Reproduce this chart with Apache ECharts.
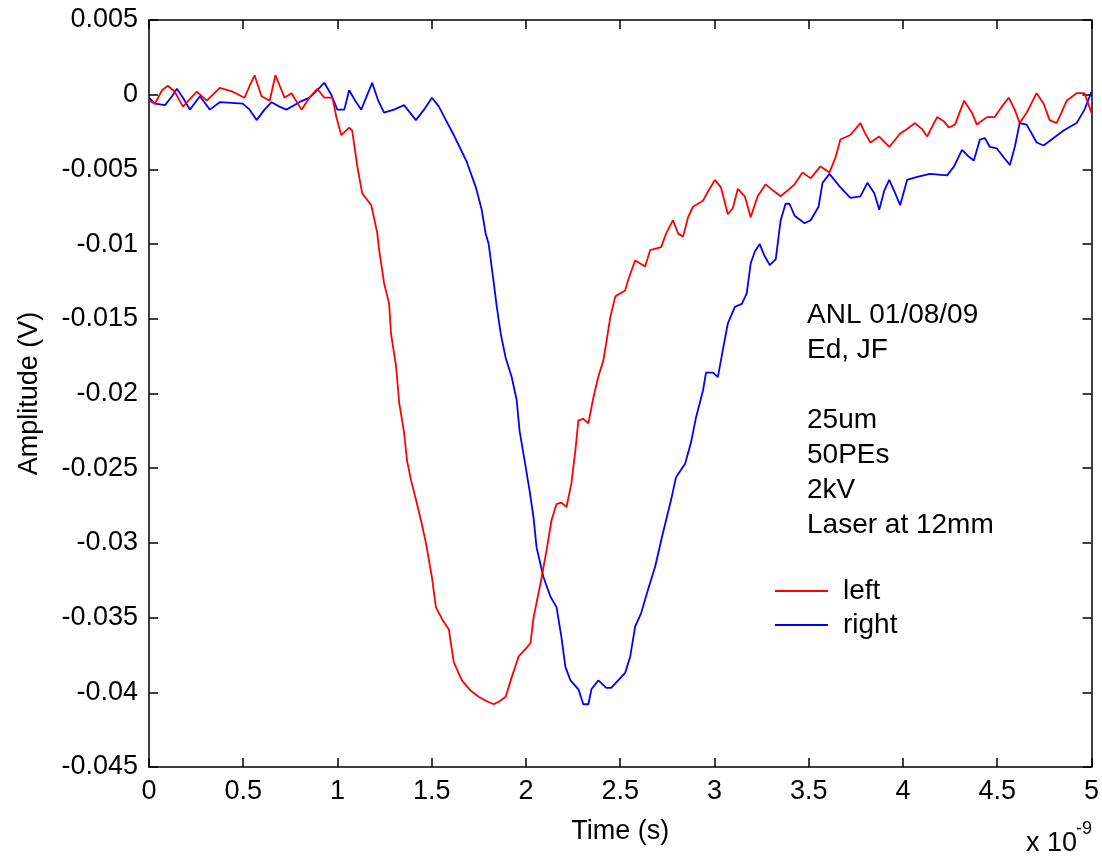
<!DOCTYPE html>
<html>
<head>
<meta charset="utf-8">
<script src="https://cdn.jsdelivr.net/npm/echarts@6/dist/echarts.min.js"></script>
<style>
html,body{margin:0;padding:0;background:#fff;}
#chart{width:1102px;height:857px;}
</style>
</head>
<body>
<div id="chart"></div>
<script>
// Time in units of 1e-9 s, amplitude in V
const leftTime = [0,0.032,0.069,0.100,0.137,0.180,0.217,0.254,0.307,0.375,0.444,0.507,0.534,0.560,0.597,0.640,0.671,0.719,0.756,0.809,0.851,0.893,0.930,0.973,0.994,1.020,1.062,1.078,1.105,1.131,1.179,1.210,1.221,1.247,1.274,1.284,1.311,1.327,1.353,1.369,1.390,1.416,1.443,1.469,1.501,1.522,1.559,1.591,1.617,1.660,1.707,1.749,1.792,1.829,1.860,1.892,1.924,1.961,1.998,2.024,2.040,2.077,2.109,2.135,2.162,2.188,2.215,2.241,2.262,2.278,2.304,2.331,2.357,2.383,2.410,2.426,2.447,2.474,2.526,2.542,2.579,2.606,2.632,2.659,2.717,2.743,2.780,2.807,2.833,2.860,2.886,2.939,2.965,3.002,3.034,3.071,3.097,3.124,3.161,3.192,3.229,3.272,3.309,3.351,3.388,3.425,3.467,3.510,3.562,3.610,3.642,3.668,3.721,3.774,3.800,3.827,3.874,3.927,3.985,4.022,4.064,4.101,4.128,4.181,4.218,4.244,4.276,4.324,4.366,4.392,4.445,4.487,4.524,4.561,4.593,4.619,4.656,4.709,4.746,4.778,4.815,4.841,4.868,4.921,4.963,5.000];
const leftAmp = [-0.0004,-0.0006,0.0003,0.0006,0.0002,-0.0008,-0.0003,0.0002,-0.0004,0.00045,0.0002,-0.0002,0.0006,0.0013,-0.0001,-0.0004,0.0013,-0.0002,0.0001,-0.0010,-0.0002,0.0004,-0.0002,-0.0002,-0.0015,-0.0027,-0.0022,-0.0024,-0.0048,-0.0066,-0.0074,-0.0092,-0.0104,-0.0126,-0.0140,-0.0160,-0.0182,-0.0206,-0.0226,-0.0245,-0.0258,-0.0271,-0.0285,-0.0300,-0.0323,-0.0343,-0.0352,-0.0358,-0.0380,-0.0392,-0.0399,-0.0403,-0.0406,-0.0408,-0.0406,-0.0403,-0.0390,-0.0376,-0.0371,-0.0367,-0.0350,-0.0327,-0.0305,-0.0285,-0.0274,-0.0273,-0.0276,-0.0260,-0.0238,-0.0218,-0.0217,-0.0220,-0.0203,-0.0189,-0.0178,-0.0166,-0.0149,-0.0135,-0.0131,-0.0124,-0.0111,-0.0113,-0.0115,-0.0104,-0.0102,-0.0093,-0.0084,-0.0093,-0.0095,-0.0082,-0.0075,-0.0071,-0.0065,-0.0057,-0.0062,-0.0080,-0.0076,-0.0063,-0.0068,-0.0082,-0.0068,-0.0060,-0.0064,-0.0068,-0.0064,-0.0060,-0.0052,-0.0056,-0.0048,-0.0052,-0.0042,-0.0030,-0.0027,-0.0019,-0.0026,-0.0032,-0.0028,-0.0035,-0.0026,-0.0023,-0.0019,-0.0023,-0.0028,-0.0015,-0.0018,-0.0022,-0.0020,-0.0004,-0.0012,-0.0020,-0.0015,-0.0015,-0.0008,-0.0002,-0.0010,-0.0019,-0.0012,0.0001,-0.0006,-0.0017,-0.0019,-0.0012,-0.0004,0.0001,0.0001,-0.0012];

const rightTime = [0,0.032,0.085,0.122,0.148,0.180,0.217,0.270,0.323,0.375,0.497,0.534,0.571,0.613,0.650,0.692,0.729,0.798,0.851,0.893,0.930,0.967,0.999,1.036,1.062,1.094,1.126,1.152,1.184,1.216,1.247,1.300,1.353,1.416,1.459,1.501,1.538,1.575,1.617,1.644,1.686,1.734,1.765,1.786,1.802,1.829,1.845,1.866,1.892,1.924,1.950,1.966,1.998,2.019,2.040,2.056,2.093,2.130,2.162,2.188,2.209,2.236,2.278,2.304,2.331,2.347,2.384,2.426,2.452,2.489,2.526,2.553,2.579,2.611,2.648,2.685,2.727,2.770,2.796,2.844,2.875,2.902,2.939,2.955,2.992,3.018,3.044,3.071,3.108,3.145,3.171,3.192,3.214,3.240,3.266,3.293,3.325,3.351,3.377,3.398,3.425,3.478,3.510,3.552,3.573,3.610,3.668,3.721,3.774,3.811,3.848,3.874,3.901,3.927,3.959,3.985,4.022,4.075,4.144,4.234,4.271,4.313,4.345,4.376,4.408,4.434,4.461,4.498,4.535,4.567,4.593,4.619,4.656,4.709,4.746,4.799,4.852,4.921,4.963,5.000];
const rightAmp = [-0.0002,-0.0006,-0.0007,-0.0001,0.0004,-0.0002,-0.0010,-0.0001,-0.0010,-0.0005,-0.0006,-0.0010,-0.0017,-0.0010,-0.0005,-0.0008,-0.0010,-0.0005,-0.0002,0.0003,0.0008,0.0000,-0.0010,-0.0010,0.0003,-0.0004,-0.0010,-0.0002,0.0008,-0.0004,-0.0012,-0.0010,-0.0007,-0.0017,-0.0010,-0.0002,-0.0008,-0.0017,-0.0027,-0.0034,-0.0045,-0.0062,-0.0077,-0.0093,-0.0100,-0.0126,-0.0142,-0.0160,-0.0176,-0.0189,-0.0204,-0.0225,-0.0249,-0.0265,-0.0283,-0.0303,-0.0323,-0.0336,-0.0343,-0.0363,-0.0383,-0.0392,-0.0398,-0.0408,-0.0408,-0.0398,-0.0392,-0.0397,-0.0397,-0.0392,-0.0387,-0.0376,-0.0356,-0.0347,-0.0331,-0.0316,-0.0293,-0.0271,-0.0256,-0.0247,-0.0233,-0.0216,-0.0198,-0.0186,-0.0186,-0.0189,-0.0171,-0.0153,-0.0142,-0.0140,-0.0133,-0.0113,-0.0105,-0.0100,-0.0108,-0.0114,-0.0110,-0.0084,-0.0073,-0.0073,-0.0081,-0.0086,-0.0084,-0.0075,-0.0059,-0.0053,-0.0062,-0.0069,-0.0068,-0.0059,-0.0066,-0.0077,-0.0064,-0.0057,-0.0066,-0.0074,-0.0057,-0.0055,-0.0053,-0.0054,-0.0048,-0.0037,-0.0041,-0.0044,-0.0030,-0.0029,-0.0035,-0.0036,-0.0042,-0.0047,-0.0035,-0.0019,-0.0020,-0.0032,-0.0034,-0.0029,-0.0024,-0.0019,-0.0010,0.0002];

const seriesNames = ['left', 'right'];
const noteLines = ['ANL 01/08/09', 'Ed, JF', '', '25um', '50PEs', '2kV', 'Laser at 12mm'];
const xTitle = 'Time (s)';
const yTitle = 'Amplitude (V)';

const FONT = '"Liberation Sans", Arial, sans-serif';
const zip = (a, b) => a.map((v, i) => [v, b[i]]);

const chart = echarts.init(document.getElementById('chart'), null, {renderer: 'canvas'});

const baseX = {
  type: 'value', min: 0, max: 5, interval: 0.5,
  axisLine: {show: true, onZero: false, lineStyle: {color: '#000', width: 1.5}},
  axisTick: {show: true, inside: true, length: 9, lineStyle: {color: '#000', width: 1.5}},
  splitLine: {show: false}
};
const baseY = {
  type: 'value', min: -0.045, max: 0.005, interval: 0.005,
  axisLine: {show: true, onZero: false, lineStyle: {color: '#000', width: 1.5}},
  axisTick: {show: true, inside: true, length: 9, lineStyle: {color: '#000', width: 1.5}},
  splitLine: {show: false}
};

chart.setOption({
  animation: false,
  backgroundColor: '#fff',
  grid: {left: 149, right: 7, top: 20, bottom: 90, containLabel: false},
  xAxis: [
    Object.assign({}, baseX, {
      position: 'bottom',
      name: xTitle, nameLocation: 'middle', nameGap: 51,
      nameTextStyle: {fontFamily: FONT, fontSize: 27, color: '#000'},
      axisLabel: {fontFamily: FONT, fontSize: 27, color: '#000', margin: 11}
    }),
    Object.assign({}, baseX, {position: 'top', axisLabel: {show: false}})
  ],
  yAxis: [
    Object.assign({}, baseY, {
      position: 'left',
      name: yTitle, nameLocation: 'middle', nameGap: 106, nameRotate: 90,
      nameTextStyle: {fontFamily: FONT, fontSize: 27, color: '#000'},
      axisLabel: {fontFamily: FONT, fontSize: 27, color: '#000', margin: 11,
        formatter: v => String(Math.round(v * 1000) / 1000)}
    }),
    Object.assign({}, baseY, {position: 'right', axisLabel: {show: false}})
  ],
  legend: {
    orient: 'vertical', left: 775, top: 577, padding: 0,
    icon: 'rect', itemWidth: 53, itemHeight: 2, itemGap: 6,
    textStyle: {fontFamily: FONT, fontSize: 28, color: '#000', padding: [0, 0, 0, 10]},
    data: seriesNames
  },
  graphic: [
    {type: 'text', left: 807, top: 298, silent: true,
     style: {text: noteLines.join('\n'), fontFamily: FONT, fontSize: 28, lineHeight: 35, fill: '#000'}},
    {type: 'text', left: 1026, top: 830, silent: true,
     style: {text: 'x 10', fontFamily: FONT, fontSize: 27, fill: '#000'}},
    {type: 'text', left: 1076, top: 820, silent: true,
     style: {text: '-9', fontFamily: FONT, fontSize: 18, fill: '#000'}}
  ],
  series: [
    {name: seriesNames[0], type: 'line', data: zip(leftTime, leftAmp), showSymbol: false,
     color: '#ff0000', lineStyle: {color: '#ff0000', width: 1.8}, z: 3},
    {name: seriesNames[1], type: 'line', data: zip(rightTime, rightAmp), showSymbol: false,
     color: '#0000ff', lineStyle: {color: '#0000ff', width: 1.8}, z: 2}
  ]
});
</script>
</body>
</html>
